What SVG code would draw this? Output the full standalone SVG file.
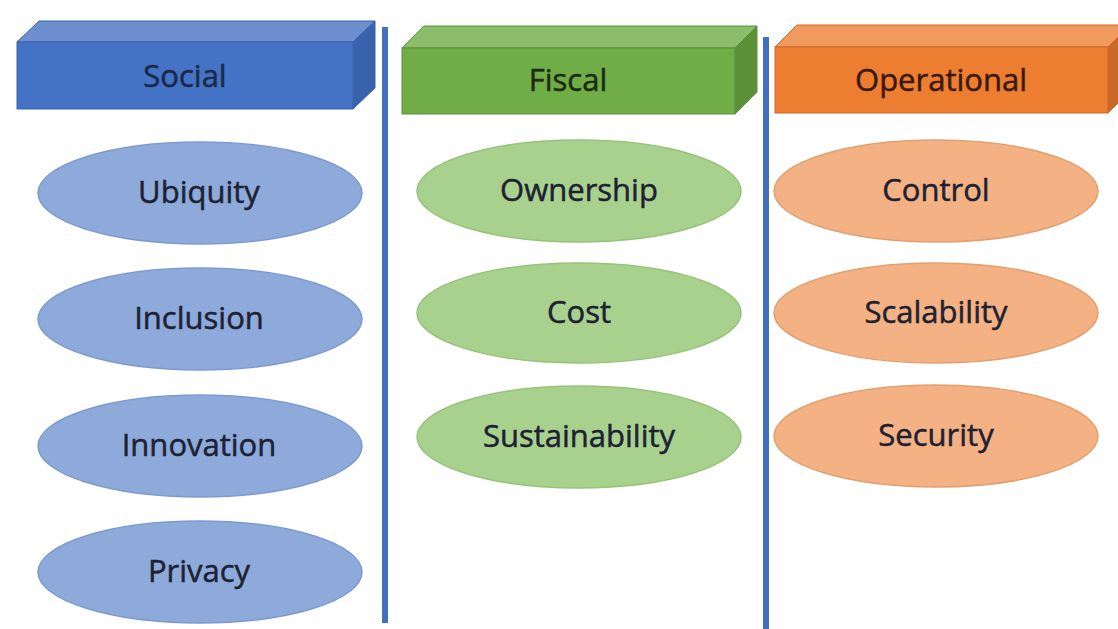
<svg xmlns="http://www.w3.org/2000/svg" width="1118" height="629" viewBox="0 0 1118 629">
<style>
text{font-family:"Open Sans","Liberation Sans",sans-serif;font-size:31px;text-anchor:middle;stroke-width:0.5}
.bf{fill:#4472C4;stroke:#3a63ad;stroke-width:1}
.bt{fill:#6d8fd0;stroke:#3a63ad;stroke-width:1}
.bs{fill:#3862ab;stroke:#3a63ad;stroke-width:1}
.gf{fill:#70AD47;stroke:#5a9037;stroke-width:1}
.gt{fill:#8cbd6b;stroke:#5a9037;stroke-width:1}
.gs{fill:#5c9139;stroke:#5a9037;stroke-width:1}
.of{fill:#ED7D31;stroke:#c9692a;stroke-width:1}
.ot{fill:#f19a5e;stroke:#c9692a;stroke-width:1}
.os{fill:#c9692a;stroke:#c9692a;stroke-width:1}
.eb{fill:#8eaadb;stroke:#7d9ad0;stroke-width:1.5}
.eg{fill:#a9d18e;stroke:#97c27a;stroke-width:1.5}
.eo{fill:#f4b183;stroke:#e0a070;stroke-width:1.5}
.tb{fill:#1b2a4a;stroke:#1b2a4a}
.tg{fill:#1a2b12;stroke:#1a2b12}
.to{fill:#3a1a0c;stroke:#3a1a0c}
.te{fill:#1d2233;stroke:#1d2233}
.div{stroke:#4270bf;stroke-width:6}
</style>
<rect width="1118" height="629" fill="#ffffff"/>
<g id="connectors">
<line class="div" x1="385" y1="27" x2="385" y2="623"/>
<line class="div" x1="766" y1="37" x2="766" y2="629"/>
</g>
<g id="social">
<polygon class="bt" points="17,42 39,21 375,21 353,42"/>
<polygon class="bs" points="353,42 375,21 375,88 353,109"/>
<rect class="bf" x="17" y="42" width="336" height="67"/>
<text class="tb" x="185" y="87">Social</text>
</g>
<g id="fiscal">
<polygon class="gt" points="402,48 424,26 757,26 735,48"/>
<polygon class="gs" points="735,48 757,26 757,92 735,114"/>
<rect class="gf" x="402" y="48" width="333" height="66"/>
<text class="tg" x="568" y="91">Fiscal</text>
</g>
<g id="operational">
<polygon class="ot" points="775,47 797,25 1130,25 1108,47"/>
<polygon class="os" points="1108,47 1130,25 1130,91 1108,113"/>
<rect class="of" x="775" y="47" width="333" height="66"/>
<text class="to" x="941" y="91">Operational</text>
</g>
<g id="ubiquity"><ellipse class="eb" cx="200" cy="193" rx="162" ry="51"/><text class="te" x="199" y="203">Ubiquity</text></g>
<g id="inclusion"><ellipse class="eb" cx="200" cy="319" rx="162" ry="51"/><text class="te" x="199" y="329">Inclusion</text></g>
<g id="innovation"><ellipse class="eb" cx="200" cy="446" rx="162" ry="51"/><text class="te" x="199" y="456">Innovation</text></g>
<g id="privacy"><ellipse class="eb" cx="200" cy="572" rx="162" ry="51"/><text class="te" x="199" y="582">Privacy</text></g>
<g id="ownership"><ellipse class="eg" cx="579" cy="191" rx="162" ry="51"/><text class="te" x="579" y="201">Ownership</text></g>
<g id="cost"><ellipse class="eg" cx="579" cy="313" rx="162" ry="50"/><text class="te" x="579" y="323">Cost</text></g>
<g id="sustainability"><ellipse class="eg" cx="579" cy="437" rx="162" ry="51"/><text class="te" x="579" y="447">Sustainability</text></g>
<g id="control"><ellipse class="eo" cx="936" cy="191" rx="162" ry="51"/><text class="te" x="936" y="201">Control</text></g>
<g id="scalability"><ellipse class="eo" cx="936" cy="313" rx="162" ry="50"/><text class="te" x="936" y="323">Scalability</text></g>
<g id="security"><ellipse class="eo" cx="936" cy="436" rx="162" ry="51"/><text class="te" x="936" y="446">Security</text></g>
</svg>
